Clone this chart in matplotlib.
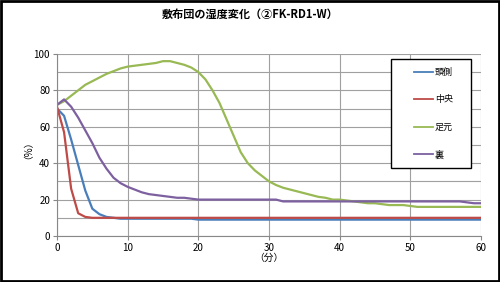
import matplotlib
matplotlib.use("Agg")
import matplotlib.pyplot as plt
from matplotlib.patches import Rectangle

plt.rcParams['font.family'] = ['Noto Sans CJK JP', 'DejaVu Sans']

time = list(range(0, 61))
head = [70, 66, 53, 39, 25, 15, 12, 10.5, 10, 9.5] + [9.5] * 10 + [9] * 41
center = [71, 57, 26, 12.5, 10.5, 10] + [10] * 55
feet = [72, 74, 77, 80, 83, 85, 87, 89, 90.5, 92,
        93, 93.5, 94, 94.5, 95, 96, 96, 95, 94, 92.5,
        90, 86, 80, 73, 64, 55, 46, 40, 36, 33,
        30, 28, 26.5, 25.5, 24.5, 23.5, 22.5, 21.5, 21, 20,
        20, 19.5, 19, 18.5, 18, 18, 17.5, 17, 17, 17,
        16.5, 16, 16, 16, 16, 16, 16, 16, 16, 16, 16]
back = [72, 75, 71, 65, 58, 51, 43, 37, 32, 29,
        27, 25.5, 24, 23, 22.5, 22, 21.5, 21, 21, 20.5] + [20] * 12 + [19] * 26 + [18.5, 18, 18]

labels = ['頭側', '中央', '足元', '裏']
colors = ['#4A7EBB', '#BE4B48', '#98B954', '#7D60A0']
title = '敷布団の湿度変化（②FK-RD1-W）'

fig = plt.figure(figsize=(5, 2.82), dpi=100)
ax = fig.add_axes([0.114, 0.163, 0.848, 0.646])

for ys, lab, c in zip([head, center, feet, back], labels, colors):
    ax.plot(time, ys, color=c, lw=1.6, label=lab)

ax.set_xlim(0, 60)
ax.set_ylim(0, 100)
ax.set_xticks(range(0, 61, 10))
ax.set_yticks(range(0, 101, 20))
ax.set_yticks(range(0, 101, 10), minor=True)
ax.grid(True, which='both', color='#a0a0a0', lw=0.8)
ax.set_axisbelow(True)
for s in ['top', 'right']:
    ax.spines[s].set_visible(False)
for s in ['left', 'bottom']:
    ax.spines[s].set_color('#888888')
ax.tick_params(axis='both', labelsize=7, length=3, color='#888888', pad=2)
ax.tick_params(axis='y', which='minor', length=0)
ax.set_xlabel('（分）', fontsize=7, labelpad=0)
ax.set_ylabel('（%）', fontsize=7, labelpad=4)
fig.text(0.5, 0.95, title, ha='center', va='center', fontsize=8, fontweight='bold')

# legend frame (drawn separately to match the wide box)
fig.patches.append(Rectangle((0.781, 0.405), 0.16, 0.385, transform=fig.transFigure,
                             facecolor='white', edgecolor='black', lw=1.0, zorder=5))
leg = fig.legend(*ax.get_legend_handles_labels(), loc='upper left',
                 bbox_to_anchor=(0.818, 0.776), bbox_transform=fig.transFigure,
                 fontsize=6.5, handlelength=2.2, handletextpad=0.15,
                 labelspacing=2.05, borderpad=0, frameon=False)
leg.set_zorder(6)
for ln in leg.get_lines():
    ln.set_linewidth(1.3)

fig.patches.append(Rectangle((0.002, 0.003), 0.996, 0.994, transform=fig.transFigure,
                             fill=False, edgecolor='black', lw=2))

fig.savefig('out.png', dpi=100)
